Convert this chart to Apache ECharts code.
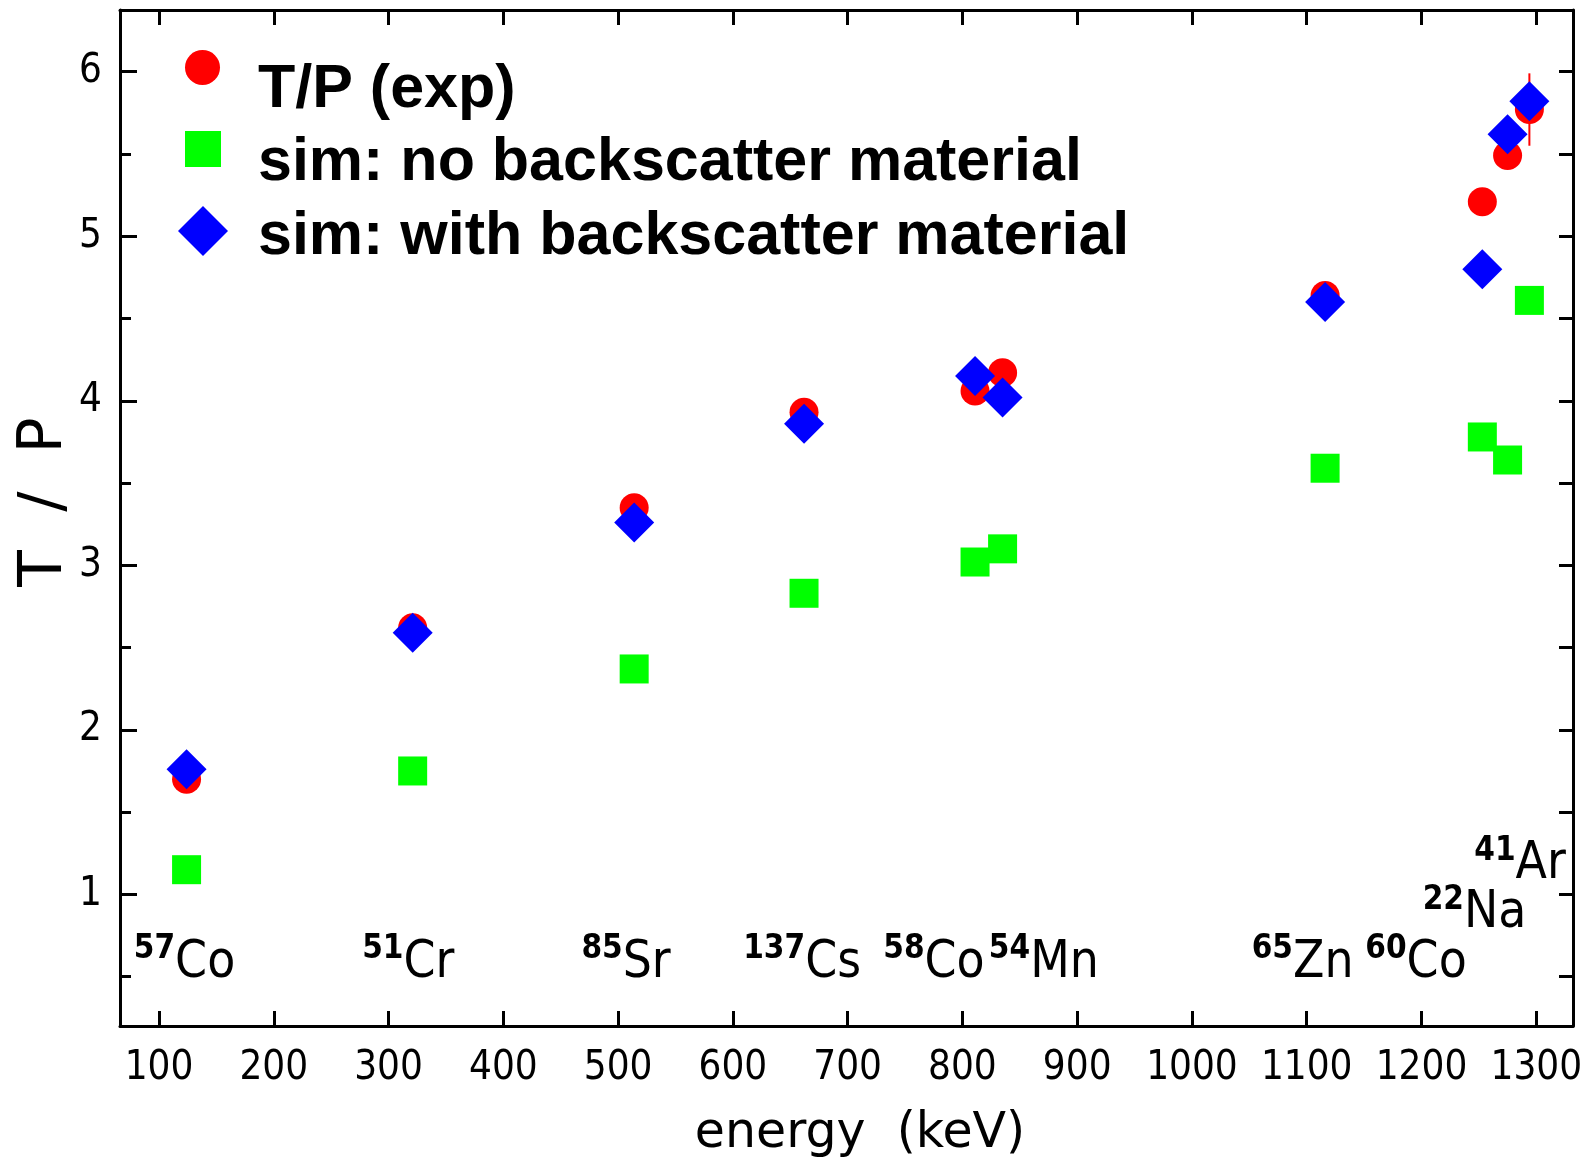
<!DOCTYPE html>
<html>
<head>
<meta charset="utf-8">
<script src="https://cdn.jsdelivr.net/npm/echarts@6/dist/echarts.min.js"></script>
<style>
html,body{margin:0;padding:0;background:#fff;}
#chart{width:1591px;height:1162px;}
</style>
</head>
<body>
<div id="chart"></div>
<script>
// ---- data ----
const energy = [124, 321, 514, 662, 811, 835, 1116, 1253, 1275, 1294];
const tpExp = [1.70, 2.62, 3.35, 3.93, 4.06, 4.17, 4.64, 5.21, 5.49, 5.77];
const tpExpErr = [null, null, null, null, null, null, null, null, null, 0.22];
const simNoBackscatter = [1.15, 1.75, 2.37, 2.83, 3.02, 3.10, 3.59, 3.78, 3.64, 4.61];
const simWithBackscatter = [1.76, 2.59, 3.26, 3.86, 4.15, 4.02, 4.60, 4.80, 5.62, 5.82];

const isoMass = ['57', '51', '85', '137', '58', '54', '65', '60', '22', '41'];
const isoSymbol = ['Co', 'Cr', 'Sr', 'Cs', 'Co', 'Mn', 'Zn', 'Co', 'Na', 'Ar'];
const isoLabelE = [78, 277, 468, 609, 731, 823, 1052, 1151, 1201, 1246];
const isoLabelV = [0.49, 0.49, 0.49, 0.49, 0.49, 0.49, 0.49, 0.49, 0.79, 1.09];

const xTickValues = [100, 200, 300, 400, 500, 600, 700, 800, 900, 1000, 1100, 1200, 1300];
const yMajorTicks = [1, 2, 3, 4, 5, 6];
const yMinorTicks = [0.5, 1, 1.5, 2, 2.5, 3, 3.5, 4, 4.5, 5, 5.5, 6];

const seriesNames = ['T/P (exp)', 'sim: no backscatter material', 'sim: with backscatter material'];

// ---- chart ----
const NARROW = "'Liberation Sans Narrow', 'DejaVu Sans Condensed', 'Liberation Sans', sans-serif";
const BOLDF = "'Liberation Sans', Arial, sans-serif";
const NAMEF = "'DejaVu Sans', sans-serif";
const X_MIN = 66, X_MAX = 1332, Y_MIN = 0.2, Y_MAX = 6.375;

const chart = echarts.init(document.getElementById('chart'), null, {renderer: 'canvas'});

const axisLine = {show: true, lineStyle: {color: '#000', width: 3}};
const tickStyle = {color: '#000', width: 3};

const pair = (ys) => energy.map((e, i) => [e, ys[i]]);

const legendBase = {
  orient: 'vertical', padding: 0, itemGap: 0, selectedMode: false,
  formatter: () => '',
  textStyle: {fontSize: 1, color: '#000'}
};
const legendTextStyle = {fontFamily: BOLDF, fontWeight: 'bold', fontSize: 61, fill: '#000', align: 'left', verticalAlign: 'middle'};

const option = {
  animation: false,
  backgroundColor: '#fff',
  grid: {left: 120, top: 10, right: 18, bottom: 136, containLabel: false, outerBoundsMode: 'none'},
  legend: [
    Object.assign({}, legendBase, {data: [seriesNames[0]], left: 185, top: 50, itemWidth: 35, itemHeight: 35, icon: 'circle'}),
    Object.assign({}, legendBase, {data: [seriesNames[1]], left: 185, top: 131, itemWidth: 36, itemHeight: 36, icon: 'rect'}),
    Object.assign({}, legendBase, {data: [seriesNames[2]], left: 178, top: 206, itemWidth: 50, itemHeight: 50, icon: 'diamond'})
  ],
  graphic: [
    {type: 'text', x: 258, y: 90, silent: true, style: Object.assign({text: seriesNames[0]}, legendTextStyle)},
    {type: 'text', x: 258, y: 163, silent: true, style: Object.assign({text: seriesNames[1]}, legendTextStyle)},
    {type: 'text', x: 258, y: 237, silent: true, style: Object.assign({text: seriesNames[2]}, legendTextStyle)}
  ],
  xAxis: [
    {
      type: 'value', min: X_MIN, max: X_MAX, position: 'bottom',
      axisLine: axisLine,
      axisTick: {show: true, inside: true, length: 15, lineStyle: tickStyle, customValues: xTickValues},
      axisLabel: {show: true, customValues: xTickValues, formatter: v => String(v), fontFamily: NARROW, fontSize: 40, color: '#000', margin: 23},
      splitLine: {show: false},
      name: 'energy  (keV)', nameLocation: 'middle', nameGap: 84, nameMoveOverlap: false,
      nameTextStyle: {fontFamily: NAMEF, fontSize: 49, color: '#000', padding: [0, 0, 0, 27]}
    },
    {
      type: 'value', min: X_MIN, max: X_MAX, position: 'top',
      axisLine: axisLine,
      axisTick: {show: true, inside: true, length: 15, lineStyle: tickStyle, customValues: xTickValues},
      axisLabel: {show: false},
      splitLine: {show: false}
    }
  ],
  yAxis: [
    {
      type: 'value', min: Y_MIN, max: Y_MAX, position: 'left',
      axisLine: axisLine,
      axisTick: {show: true, inside: true, length: 17, lineStyle: tickStyle, customValues: yMajorTicks},
      axisLabel: {show: true, customValues: yMajorTicks, formatter: v => String(v), fontFamily: NARROW, fontSize: 40, color: '#000', margin: 18},
      splitLine: {show: false},
      name: 'T  /  P', nameLocation: 'middle', nameGap: 45, nameRotate: 90, nameMoveOverlap: false,
      nameTextStyle: {fontFamily: NAMEF, fontSize: 60, color: '#000', padding: [0, 0, 0, 32]}
    },
    {
      type: 'value', min: Y_MIN, max: Y_MAX, position: 'left',
      axisLine: {show: false},
      axisTick: {show: true, inside: true, length: 11, lineStyle: tickStyle, customValues: yMinorTicks},
      axisLabel: {show: false},
      splitLine: {show: false}
    },
    {
      type: 'value', min: Y_MIN, max: Y_MAX, position: 'right',
      axisLine: axisLine,
      axisTick: {show: true, inside: true, length: 14, lineStyle: tickStyle, customValues: yMinorTicks},
      axisLabel: {show: false},
      splitLine: {show: false}
    }
  ],
  series: [
    {
      name: seriesNames[0], type: 'scatter', xAxisIndex: 0, yAxisIndex: 0,
      symbol: 'circle', symbolSize: 29, itemStyle: {color: '#ff0000', opacity: 1},
      data: pair(tpExp), z: 2
    },
    {
      name: 'err', type: 'custom', xAxisIndex: 0, yAxisIndex: 0, z: 3,
      data: energy.map((e, i) => tpExpErr[i] == null ? null : [e, tpExp[i] - tpExpErr[i], tpExp[i] + tpExpErr[i]]).filter(d => d),
      encode: {x: 0, y: [1, 2]},
      renderItem: function (params, api) {
        const p1 = api.coord([api.value(0), api.value(1)]);
        const p2 = api.coord([api.value(0), api.value(2)]);
        return {type: 'line', shape: {x1: p1[0], y1: p1[1], x2: p2[0], y2: p2[1]}, style: {stroke: '#ff0000', lineWidth: 2}};
      }
    },
    {
      name: seriesNames[1], type: 'scatter', xAxisIndex: 0, yAxisIndex: 0,
      symbol: 'rect', symbolSize: 29, itemStyle: {color: '#00ff00', opacity: 1},
      data: pair(simNoBackscatter), z: 4
    },
    {
      name: seriesNames[2], type: 'scatter', xAxisIndex: 0, yAxisIndex: 0,
      symbol: 'diamond', symbolSize: 40, itemStyle: {color: '#0000ff', opacity: 1},
      data: pair(simWithBackscatter), z: 5
    },
    {
      name: 'isotopes', type: 'scatter', xAxisIndex: 0, yAxisIndex: 0, z: 6,
      symbolSize: 0, itemStyle: {color: 'transparent'}, silent: true,
      data: isoLabelE.map((e, i) => [e, isoLabelV[i], isoMass[i], isoSymbol[i]]),
      label: {
        show: true, position: [0, 0], align: 'left', verticalAlign: 'bottom', offset: [0, 15],
        color: '#000', opacity: 1,
        formatter: p => '{m|' + p.value[2] + '}{s|' + p.value[3] + '}',
        rich: {
          m: {fontFamily: NARROW, fontWeight: 'bold', fontSize: 33, color: '#000', lineHeight: 34, verticalAlign: 'top'},
          s: {fontFamily: NARROW, fontSize: 51, color: '#000', lineHeight: 60, verticalAlign: 'middle'}
        }
      }
    }
  ]
};
chart.setOption(option);
</script>
</body>
</html>
